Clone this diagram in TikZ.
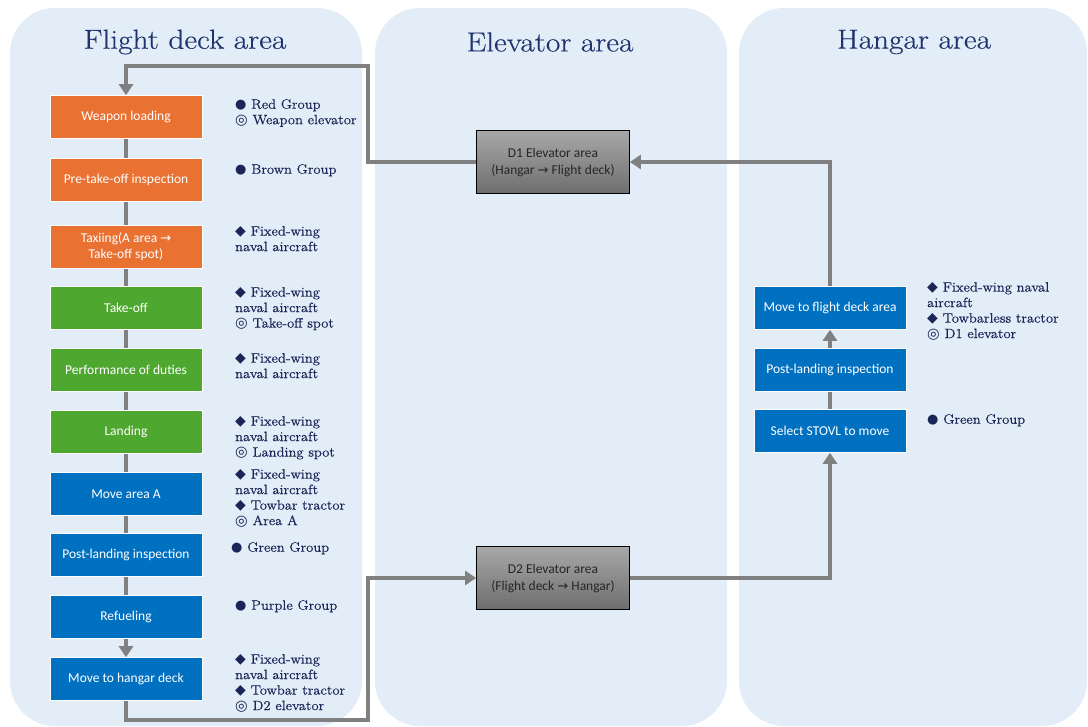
\documentclass[tikz,border=0pt]{standalone}
\usepackage{fontspec}
\usetikzlibrary{arrows.meta}
\newfontfamily\boxfont{Carlito}
\newfontfamily\symfont{DejaVu Sans}
\newfontfamily\notefont{Latin Modern Roman}[FakeBold=0.5, FakeStretch=1.08]
\newfontfamily\headfont{Latin Modern Roman}[FakeBold=0.3, FakeStretch=1.14]
\definecolor{panelblue}{RGB}{226,237,248}
\definecolor{titleblue}{RGB}{31,52,110}
\definecolor{notenavy}{RGB}{27,38,88}
\definecolor{boxorange}{RGB}{233,113,50}
\definecolor{boxgreen}{RGB}{78,167,46}
\definecolor{boxblue}{RGB}{0,112,192}
\definecolor{linkgray}{RGB}{128,128,128}
\definecolor{elevtop}{RGB}{168,168,168}
\definecolor{elevbot}{RGB}{110,110,110}
\newcommand{\grp}{{\symfont\fontsize{13}{13}\selectfont ●}}
\newcommand{\veh}{{\symfont\fontsize{14}{14}\selectfont ◆}}
\newcommand{\loc}{{\symfont\fontsize{14.5}{14.5}\selectfont ◎}}
\newcommand{\rarr}{{\symfont\fontsize{13}{13}\selectfont →}}

\begin{document}
\begin{tikzpicture}[x=1pt,y=-1pt,
    panel/.style={fill=panelblue, rounded corners=45pt},
    title/.style={text=titleblue, font=\headfont\fontsize{27.5}{30}\selectfont},
    task/.style={rectangle, draw=white, line width=0.6pt, minimum width=152pt, minimum height=43pt, inner sep=1pt, text=white, align=center, font=\boxfont\fontsize{13.5}{16}\selectfont},
    orange/.style={task, fill=boxorange},
    green/.style={task, fill=boxgreen},
    blue/.style={task, fill=boxblue},
    elev/.style={rectangle, draw=black, line width=0.8pt, top color=elevtop, bottom color=elevbot, minimum width=153pt, minimum height=63pt, inner sep=1pt, align=center, text=black!85, font=\boxfont\fontsize{13.5}{17}\selectfont},
    note/.style={anchor=north west, inner sep=0pt, align=left, text=notenavy, font=\notefont\fontsize{13.5}{15.5}\selectfont},
    link/.style={draw=linkgray, line width=4.5pt},
    tip/.style={-{Triangle[length=11pt,width=14pt]}}]
    \useasboundingbox (0,0) rectangle (1088,727);

    % Areas
    \fill[panel] (10,8) rectangle (362,726);
    \fill[panel] (375,8) rectangle (727,726);
    \fill[panel] (739,8) rectangle (1087,726);
    \node[title] (title-fd) at (185,42) {Flight deck area};
    \node[title] (title-el) at (550,42) {Elevator area};
    \node[title] (title-hg) at (914,42) {Hangar area};

    % Flight deck column
    \node[orange] (fd-1) at (126,117) {Weapon loading};
    \node[orange] (fd-2) at (126,180) {Pre-take-off inspection};
    \node[orange] (fd-3) at (126,247) {Taxiing(A area \rarr\\Take-off spot)};
    \node[green] (fd-4) at (126,308) {Take-off};
    \node[green] (fd-5) at (126,370) {Performance of duties};
    \node[green] (fd-6) at (126,432) {Landing};
    \node[blue] (fd-7) at (126,494) {Move area A};
    \node[blue] (fd-8) at (126,555) {Post-landing inspection};
    \node[blue] (fd-9) at (126,617) {Refueling};
    \node[blue] (fd-10) at (126,679) {Move to hangar deck};

    \node[note] (note-1) at (235,99) {\grp\ Red Group\\\loc\ Weapon elevator};
    \node[note] (note-2) at (235,164) {\grp\ Brown Group};
    \node[note] (note-3) at (235,226) {\veh\ Fixed-wing\\naval aircraft};
    \node[note] (note-4) at (235,287) {\veh\ Fixed-wing\\naval aircraft\\\loc\ Take-off spot};
    \node[note] (note-5) at (235,353) {\veh\ Fixed-wing\\naval aircraft};
    \node[note] (note-6) at (235,416) {\veh\ Fixed-wing\\naval aircraft\\\loc\ Landing spot};
    \node[note] (note-7) at (235,469) {\veh\ Fixed-wing\\naval aircraft\\\veh\ Towbar tractor\\\loc\ Area A};
    \node[note] (note-8) at (231,542) {\grp\ Green Group};
    \node[note] (note-9) at (235,600) {\grp\ Purple Group};
    \node[note] (note-10) at (235,654) {\veh\ Fixed-wing\\naval aircraft\\\veh\ Towbar tractor\\\loc\ D2 elevator};

    % Elevator column
    \node[elev] (el-1) at (553,162) {D1 Elevator area\\(Hangar \rarr\ Flight deck)};
    \node[elev] (el-2) at (553,578) {D2 Elevator area\\(Flight deck \rarr\ Hangar)};

    % Hangar column
    \node[blue] (hg-1) at (830,308) {Move to flight deck area};
    \node[blue] (hg-2) at (830,370) {Post-landing inspection};
    \node[blue] (hg-3) at (830,431) {Select STOVL to move};

    \node[note] (note-11) at (927,282) {\veh\ Fixed-wing naval\\aircraft\\\veh\ Towbarless tractor\\\loc\ D1 elevator};
    \node[note] (note-12) at (927,414) {\grp\ Green Group};

    % Turning points
    \coordinate (top-turn) at (368,66);
    \coordinate (bot-turn) at (368,720);

    % Links
    \foreach \a/\b in {1/2,2/3,3/4,4/5,5/6,6/7,7/8,8/9}
        \draw[link] (fd-\a) -- (fd-\b);
    \draw[link,tip] (fd-9) -- (fd-10);
    \draw[link,tip] (el-1.west) -| (top-turn) -| (fd-1.north);
    \draw[link,tip] (fd-10.south) |- (bot-turn) |- (el-2.west);
    \draw[link,tip] (el-2.east) -| (hg-3.south);
    \draw[link] (hg-3) -- (hg-2);
    \draw[link,tip] (hg-2) -- (hg-1);
    \draw[link,tip] (hg-1.north) |- (el-1.east);

\end{tikzpicture}
\end{document}
